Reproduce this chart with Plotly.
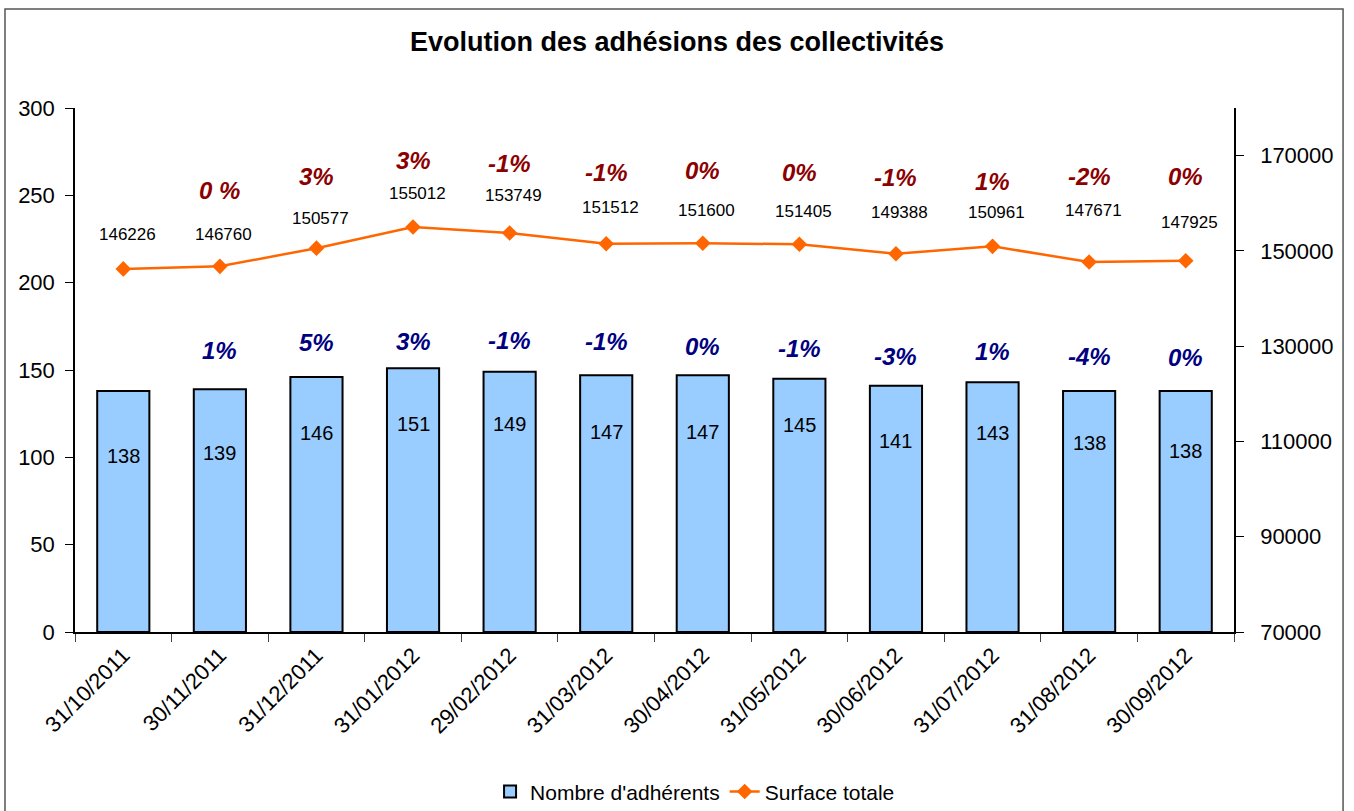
import plotly.graph_objects as go

dates = ["31/10/2011", "30/11/2011", "31/12/2011", "31/01/2012", "29/02/2012", "31/03/2012",
         "30/04/2012", "31/05/2012", "30/06/2012", "31/07/2012", "31/08/2012", "30/09/2012"]
adherents = [138, 139, 146, 151, 149, 147, 147, 145, 141, 143, 138, 138]
surface = [146226, 146760, 150577, 155012, 153749, 151512, 151600, 151405, 149388, 150961, 147671, 147925]
pct_adherents = ["", "1%", "5%", "3%", "-1%", "-1%", "0%", "-1%", "-3%", "1%", "-4%", "0%"]
pct_surface = ["", "0 %", "3%", "3%", "-1%", "-1%", "0%", "0%", "-1%", "1%", "-2%", "0%"]

# label pixel offsets (layout tweaks, not data)
bar_label_shift = [-65, -64, -56, -56, -52, -57, -57, -46, -55, -51, -52, -60]
bar_pct_shift = [0, 39, 34, 27, 31, 34, 29, 30, 29, 31, 34, 33]
line_label_shift = [34, 32, 30, 34, 38, 36, 33, 33, 41, 34, 52, 38]
line_pct_shift = [0, 76, 72, 67, 70, 71, 73, 72, 76, 65, 86, 84]

FONT = "Liberation Sans, Arial, sans-serif"

fig = go.Figure()
fig.add_trace(go.Bar(
    x=dates, y=adherents, name="Nombre d'adhérents",
    marker=dict(color="#99CCFF", line=dict(color="black", width=2)),
    yaxis="y",
))
fig.add_trace(go.Scatter(
    x=dates, y=surface, name="Surface totale", mode="lines+markers",
    line=dict(color="#FF6600", width=2.5),
    marker=dict(symbol="diamond", size=12, color="#FF6600"),
    yaxis="y2",
))

ann = []
for d, v, s in zip(dates, adherents, bar_label_shift):
    ann.append(dict(x=d, y=v, xref="x", yref="y", text=str(v), showarrow=False,
                    yshift=s, font=dict(family=FONT, size=20, color="black")))
for d, p, v, s in zip(dates, pct_adherents, adherents, bar_pct_shift):
    if p:
        ann.append(dict(x=d, y=v, xref="x", yref="y", text="<b><i>%s</i></b>" % p, showarrow=False,
                        yshift=s, font=dict(family=FONT, size=24, color="#000080")))
for d, v, s in zip(dates, surface, line_label_shift):
    ann.append(dict(x=d, y=v, xref="x", yref="y2", text=str(v), showarrow=False,
                    yshift=s, xshift=4, font=dict(family=FONT, size=17, color="black")))
for d, p, v, s in zip(dates, pct_surface, surface, line_pct_shift):
    if p:
        ann.append(dict(x=d, y=v, xref="x", yref="y2", text="<b><i>%s</i></b>" % p, showarrow=False,
                        yshift=s, font=dict(family=FONT, size=24, color="#8B0000")))

fig.update_layout(
    width=1354, height=811,
    margin=dict(l=75, r=120, t=108, b=179, autoexpand=False),
    paper_bgcolor="white", plot_bgcolor="white",
    font=dict(family=FONT, color="black"),
    title=dict(text="<b>Evolution des adhésions des collectivités</b>", x=0.5, xanchor="center",
               y=1 - 42 / 811, yanchor="middle", font=dict(family=FONT, size=27, color="black")),
    bargap=0.46,
    showlegend=True,
    legend=dict(orientation="h", x=0.535, xanchor="center", y=-0.305, yanchor="middle",
                font=dict(family=FONT, size=21, color="black"), bgcolor="rgba(0,0,0,0)"),
    xaxis=dict(type="category", range=[-0.5, 11.5], showline=True, linecolor="black", linewidth=1.5,
               ticks="outside", tickson="boundaries", ticklen=8, tickcolor="#444",
               tickangle=-45, tickfont=dict(family=FONT, size=22, color="black"),
               showgrid=False, zeroline=False, automargin=False),
    yaxis=dict(range=[0, 300], dtick=50, tick0=0, showline=True, linecolor="black", linewidth=1.5,
               ticks="outside", ticklen=8, tickcolor="black", ticklabelstandoff=6,
               tickfont=dict(family=FONT, size=22, color="black"),
               showgrid=False, zeroline=False, automargin=False),
    yaxis2=dict(range=[70000, 180000], dtick=20000, tick0=70000, overlaying="y", side="right",
                showline=True, linecolor="black", linewidth=1.5,
                ticks="outside", ticklen=8, tickcolor="black", tickformat="d", ticklabelstandoff=12,
                tickfont=dict(family=FONT, size=22, color="black"),
                showgrid=False, zeroline=False, automargin=False),
    annotations=ann,
    shapes=[dict(type="rect", xref="paper", yref="paper",
                 x0=-0.0604, x1=1.0941, y0=-0.36, y1=1.189,
                 line=dict(color="#555555", width=1.5), fillcolor="rgba(0,0,0,0)", layer="below")],
)

fig.write_html("out.html")
